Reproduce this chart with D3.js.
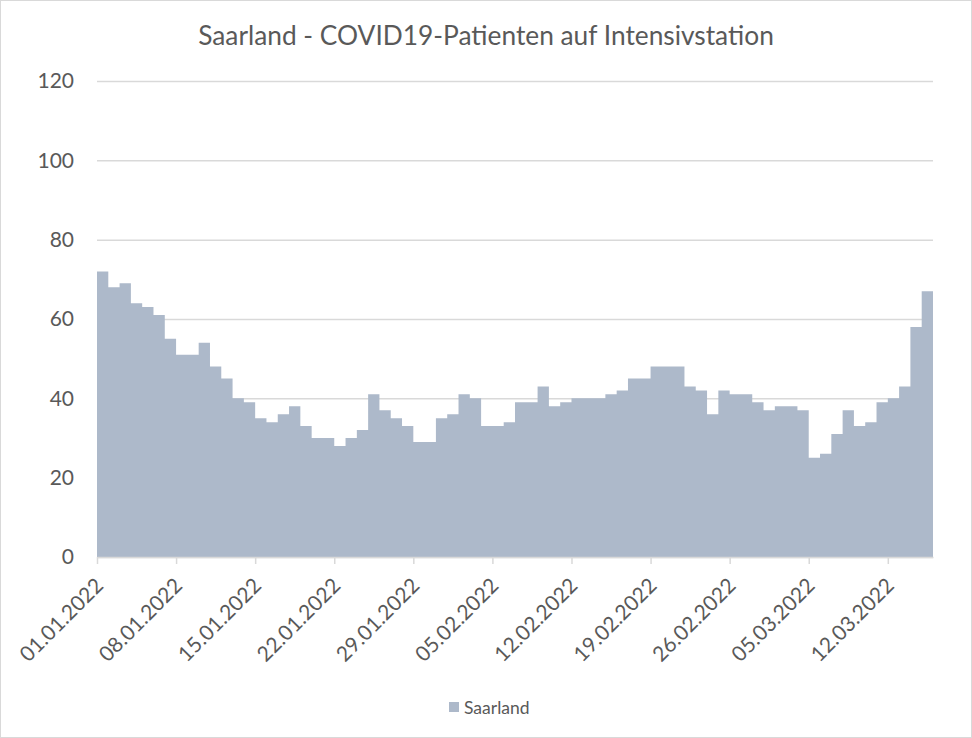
<!DOCTYPE html>
<html>
<head>
<meta charset="utf-8">
<script src="https://cdn.jsdelivr.net/npm/d3@7"></script>
<style>
  body { margin: 0; background: #fff; }
  text { font-family: Lato, "Liberation Sans", sans-serif; fill: #595959; }
</style>
</head>
<body>
<div id="chart"></div>
<script>
var svgWidth = 972;
var svgHeight = 738;

var margin = { top: 81, right: 39, bottom: 181, left: 97 };
var width = svgWidth - margin.left - margin.right;
var height = svgHeight - margin.top - margin.bottom;

// daily values starting 01.01.2022
var startDay = "01.01.2022";
var patients = [70, 72, 68, 69, 64, 63, 61, 55, 51, 51, 54, 48, 45, 40, 39, 35, 34, 36, 38, 33,
  30, 30, 28, 30, 32, 41, 37, 35, 33, 29, 29, 35, 36, 41, 40, 33, 33, 34, 39, 39,
  43, 38, 39, 40, 40, 40, 41, 42, 45, 45, 48, 48, 48, 43, 42, 36, 42, 41, 41, 39,
  37, 38, 38, 37, 25, 26, 31, 37, 33, 34, 39, 40, 43, 58, 67];
var tickLabels = ["01.01.2022", "08.01.2022", "15.01.2022", "22.01.2022", "29.01.2022",
  "05.02.2022", "12.02.2022", "19.02.2022", "26.02.2022", "05.03.2022", "12.03.2022"];
var yTicks = [0, 20, 40, 60, 80, 100, 120];
var seriesName = "Saarland";
var title = "Saarland - COVID19-Patienten auf Intensivstation";

var parse = d3.timeParse("%d.%m.%Y");
var start = parse(startDay);
var data = patients.map(function(v, i) {
  return { date: d3.timeDay.offset(start, i), value: v };
});

var svg = d3.select("#chart")
  .append("svg")
  .attr("width", svgWidth)
  .attr("height", svgHeight);

svg.append("rect")
  .attr("x", 0.5).attr("y", 0.5)
  .attr("width", svgWidth - 1).attr("height", svgHeight - 1)
  .attr("fill", "#fff")
  .attr("stroke", "#d9d9d9");

var chartGroup = svg.append("g")
  .attr("transform", `translate(${margin.left}, ${margin.top})`);

var x = d3.scaleTime()
  .domain(d3.extent(data, d => d.date))
  .range([0, width]);

var y = d3.scaleLinear()
  .domain([0, 120])
  .range([height, 0]);

// gridlines + y labels
var leftAxis = d3.axisLeft(y)
  .tickValues(yTicks)
  .tickSize(-width)
  .tickPadding(23);

var yg = chartGroup.append("g").call(leftAxis);
yg.select(".domain").remove();
yg.selectAll("line").attr("stroke", "#d9d9d9").attr("stroke-width", 1.5);
yg.selectAll("text")
  .style("font-size", "21px")
  .attr("fill", "#595959");

// area
var area = d3.area()
  .curve(d3.curveStepBefore)
  .x(d => x(d.date))
  .y0(y(0))
  .y1(d => y(d.value));

chartGroup.append("path")
  .datum(data)
  .attr("fill", "#adb9ca")
  .attr("d", area);

// x axis
var bottomAxis = d3.axisBottom(x)
  .tickValues(tickLabels.map(parse))
  .tickFormat(d3.timeFormat("%d.%m.%Y"))
  .tickSizeInner(7)
  .tickSizeOuter(0);

var xg = chartGroup.append("g")
  .attr("transform", `translate(0, ${height})`)
  .call(bottomAxis);
xg.select(".domain").attr("stroke", "#d9d9d9").attr("stroke-width", 1.5);
xg.selectAll("line").attr("stroke", "#d9d9d9").attr("stroke-width", 1.5);
xg.selectAll("text")
  .attr("x", 0).attr("y", 0).attr("dy", 0)
  .attr("text-anchor", "end")
  .attr("transform", "translate(7, 30) rotate(-45)")
  .style("font-size", "21px")
  .attr("fill", "#595959");

// title
svg.append("text")
  .attr("x", svgWidth / 2)
  .attr("y", 45)
  .attr("text-anchor", "middle")
  .style("font-size", "26.3px")
  .text(title);

// legend
var legend = svg.append("g").attr("transform", "translate(449, 702)");
legend.append("rect")
  .attr("width", 10).attr("height", 10)
  .attr("fill", "#adb9ca");
legend.append("text")
  .attr("x", 15).attr("y", 11.5)
  .style("font-size", "17.5px")
  .text(seriesName);
</script>
</body>
</html>
